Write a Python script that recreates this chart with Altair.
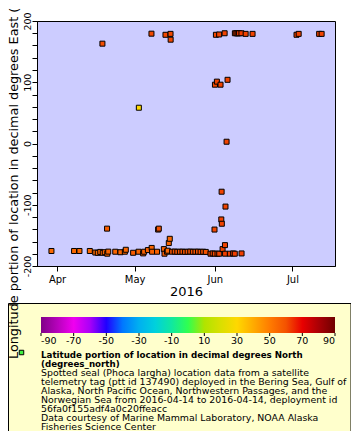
import altair as alt
import pandas as pd

# ---- data ----
times = [
    "2016-03-29T20:00", "2016-04-07T14:00", "2016-04-09T16:00", "2016-04-13T16:00",
    "2016-04-15T19:00", "2016-04-16T18:00", "2016-04-17T17:00", "2016-04-18T13:00",
    "2016-04-18T16:00", "2016-04-19T11:00", "2016-04-20T08:00", "2016-04-20T10:00",
    "2016-04-20T19:00", "2016-04-23T12:00", "2016-04-25T12:00", "2016-04-27T05:00",
    "2016-04-27T14:00", "2016-04-30T10:00", "2016-05-02T12:00", "2016-05-02T15:00",
    "2016-05-04T07:00", "2016-05-04T16:00", "2016-05-06T03:00", "2016-05-07T12:00",
    "2016-05-07T14:00", "2016-05-07T18:00", "2016-05-09T16:00", "2016-05-10T02:00",
    "2016-05-10T08:00", "2016-05-12T07:00", "2016-05-12T13:00", "2016-05-12T22:00",
    "2016-05-13T12:00", "2016-05-13T19:00", "2016-05-14T05:00", "2016-05-14T14:00",
    "2016-05-14T21:00", "2016-05-14T22:00",
    "2016-05-15T12:00", "2016-05-16T12:00", "2016-05-17T12:00", "2016-05-18T12:00",
    "2016-05-19T12:00", "2016-05-20T12:00", "2016-05-21T12:00", "2016-05-22T12:00",
    "2016-05-23T12:00", "2016-05-24T12:00", "2016-05-25T12:00", "2016-05-26T12:00",
    "2016-05-27T12:00", "2016-05-28T12:00",
    "2016-05-30T08:00", "2016-05-31T04:00", "2016-05-31T21:00", "2016-06-01T00:00",
    "2016-06-01T01:00", "2016-06-01T10:00", "2016-06-01T19:00", "2016-06-02T01:00",
    "2016-06-02T16:00", "2016-06-02T17:00", "2016-06-03T05:00", "2016-06-03T12:00",
    "2016-06-03T15:00", "2016-06-03T17:00", "2016-06-04T00:00", "2016-06-04T19:00",
    "2016-06-04T22:00", "2016-06-04T23:00", "2016-06-05T03:00", "2016-06-05T13:00",
    "2016-06-05T22:00", "2016-06-06T19:00", "2016-06-08T02:00", "2016-06-08T17:00",
    "2016-06-08T18:00", "2016-06-09T08:00", "2016-06-09T20:00", "2016-06-10T09:00",
    "2016-06-11T07:00", "2016-06-11T08:00", "2016-06-12T22:00", "2016-06-15T14:00",
    "2016-07-02T14:00", "2016-07-03T10:00", "2016-07-11T08:00", "2016-07-12T07:00",
]
lons = [
    -175.5, -175.5, -175.5, -175.5,
    -178.0, -178.5, -177.0, 163.0,
    -178.5, -177.5, -139.0, -179.9,
    -176.5, -176.7, -177.5, -176.7,
    -173.5, -178.4, -176.7, 58.4,
    -179.4, -176.7, -174.0, 179.3,
    -170.5, -176.7, -176.7, -140.5,
    -139.0, -172.4, -179.9, 177.5,
    -176.7, -175.0, -162.6, -155.6,
    179.0, 169.5,
    -176.7, -176.5, -176.8, -176.7, -176.6, -176.9, -176.7, -176.5,
    -176.8, -176.7, -176.6, -176.9, -176.7, -177.0,
    -179.9, -179.5, -140.5, -179.9,
    96.0, 177.5, 101.0, -179.9,
    178.0, -179.9, 96.0, -124.0,
    -78.7, -131.0, -172.4, 180.0,
    -165.9, -179.9, -103.0, 2.9,
    104.0, -179.9, -179.5, -179.9,
    180.0, 180.0, 179.8, 180.0,
    180.0, -179.5, 179.0, 179.0,
    177.5, 179.0, 179.0, 179.0,
]
lats = [
    55, 55, 55, 55,
    55, 55, 55, 61,
    56, 56, 58, 56,
    56, 56, 56, 56,
    56, 58, 56, 30,
    58, 57, 57, 62,
    56, 57, 57, 60,
    60, 57, 58, 62,
    57, 56, 56, 55,
    62, 62,
    60, 60, 60, 60, 60, 60, 60, 60,
    60, 60, 60, 60, 60, 60,
    62, 62, 62, 62,
    62, 62, 63, 62,
    63, 63, 63, 63,
    63, 63, 63, 63,
    63, 64, 63, 63,
    63, 64, 64, 64,
    64, 64, 64, 64,
    64, 64, 63, 63,
    63, 63, 63, 63,
]

palette_stops = [-90, -70, -50, -30, -10, 0, 10, 30, 50, 70, 90]
palette_colors = ["#800088", "#f000f0", "#2000ff", "#00b0f0", "#10e8a0", "#30ff50",
                  "#b0e400", "#ffd800", "#ff7c00", "#e80000", "#700000"]
legend_values = [-90, -70, -50, -30, -10, 10, 30, 50, 70, 90]

y_title = "Longitude portion of location in decimal degrees East (degrees_east)"
legend_title = ["Latitude portion of location in decimal degrees North", "(degrees_north)"]
legend_body = [
    "Spotted seal (Phoca largha) location data from a satellite",
    "telemetry tag (ptt id 137490) deployed in the Bering Sea, Gulf of",
    "Alaska, North Pacific Ocean, Northwestern Passages, and the",
    "Norwegian Sea from 2016-04-14 to 2016-04-14, deployment id",
    "56fa0f155adf4a0c20ffeacc",
    "Data courtesy of Marine Mammal Laboratory, NOAA Alaska",
    "Fisheries Science Center",
]

df = pd.DataFrame({"time": times, "lon": lons, "lat": lats})
ticks_df = pd.DataFrame({"v": legend_values})
one = pd.DataFrame({"k": [0]})

FONT = "DejaVu Sans"

box = alt.Chart(one).mark_rect(fill="#FFFFCC", stroke="black", strokeWidth=1).encode(
    x=alt.value(-28.5), x2=alt.value(314), y=alt.value(282.5), y2=alt.value(420)
)

points = alt.Chart(df).mark_square(size=25, stroke="black", strokeWidth=1,
                                   strokeJoin="miter", opacity=1, fillOpacity=1).encode(
    x=alt.X("time:T",
            scale=alt.Scale(domain=[alt.DateTime(year=2016, month=3, date=24, hours=6),
                                    alt.DateTime(year=2016, month=7, date=17, hours=11)]),
            axis=alt.Axis(title="2016", format="%b",
                          values=[alt.DateTime(year=2016, month=m, date=1) for m in (4, 5, 6, 7)],
                          labelFontSize=10, titleFontSize=13, titleFontWeight="normal",
                          labelPadding=3.5, titlePadding=1, tickSize=5, grid=False)),
    y=alt.Y("lon:Q", scale=alt.Scale(domain=[-200, 200], nice=False),
            axis=alt.Axis(title=None, values=list(range(-200, 201, 20)),
                          labelExpr="datum.value % 100 == 0 ? '' + datum.value : ''",
                          labelAngle=270, labelAlign="center", labelBaseline="alphabetic",
                          labelFontSize=9.5, labelPadding=1.5, tickSize=5, grid=False)),
    fill=alt.Fill("lat:Q",
                  scale=alt.Scale(type="linear", domain=palette_stops, range=palette_colors),
                  legend=alt.Legend(orient="none", legendX=4, legendY=296,
                                    direction="horizontal", title=None,
                                    gradientLength=294, gradientThickness=16,
                                    gradientStrokeWidth=0, values=legend_values,
                                    labelExpr="'' + datum.value",
                                    labelFontSize=9.5, labelFont=FONT, labelOffset=3,
                                    labelAlign="center", labelBaseline="top",
                                    labelOverlap=False, padding=0)),
)

# small tick marks under the colour bar, one per colour-bar label
cbar_ticks = alt.Chart(ticks_df).mark_rule(color="black", strokeWidth=1).encode(
    x=alt.X("v:Q", scale=alt.Scale(domain=[-92.45, 90], nice=False, zero=False), axis=None),
    y=alt.value(312), y2=alt.value(315),
)

ytitle = alt.Chart(one).mark_text(angle=270, align="left", baseline="alphabetic",
                                  fontSize=12.8, font=FONT, color="black").encode(
    x=alt.value(-19.5), y=alt.value(338), text=alt.value(y_title)
)

marker = alt.Chart(one).mark_square(size=20, fill="#40f040", stroke="black",
                                    strokeWidth=1, strokeJoin="miter", opacity=1).encode(
    x=alt.value(-15.5), y=alt.value(331.5)
)

ltitle = alt.Chart(one).mark_text(align="left", baseline="alphabetic", fontSize=8.7,
                                  fontWeight="bold", font=FONT, lineHeight=9,
                                  color="black").encode(
    x=alt.value(4), y=alt.value(337), text=alt.value(legend_title)
)

lbody = alt.Chart(one).mark_text(align="left", baseline="alphabetic", fontSize=9.4,
                                 font=FONT, lineHeight=9, color="black").encode(
    x=alt.value(4), y=alt.value(354.5), text=alt.value(legend_body)
)

chart = alt.layer(box, points, cbar_ticks, ytitle, marker, ltitle, lbody).resolve_scale(
    x="independent"
).properties(
    width=298, height=245,
    padding={"left": 29, "top": 13, "right": 16, "bottom": 165},
    autosize=alt.AutoSizeParams(type="none"),
).configure(font=FONT).configure_view(
    fill="#CCCCFF", stroke="black", strokeWidth=1
).configure_axis(
    domainColor="black", tickColor="black", labelColor="black", titleColor="black",
    labelFont=FONT, titleFont=FONT
)

chart.save("out.html", embed_options={"renderer": "svg", "actions": False})
